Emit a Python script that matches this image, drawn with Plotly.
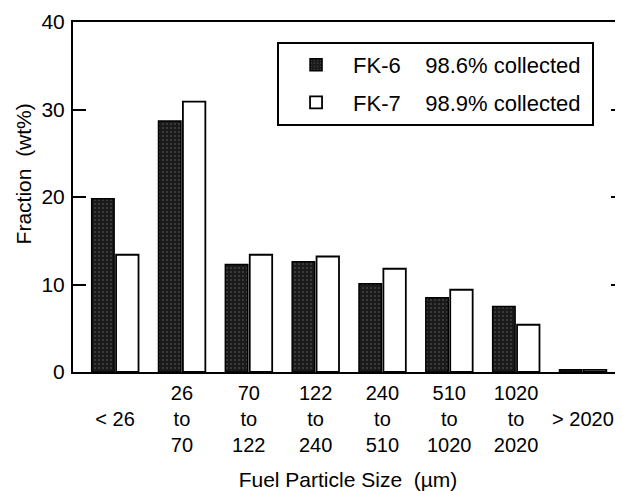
import plotly.graph_objects as go

categories = ["< 26", "26 to 70", "70 to 122", "122 to 240", "240 to 510",
              "510 to 1020", "1020 to 2020", "> 2020"]
tick_labels = ["&nbsp;<br>&lt; 26<br>&nbsp;", "26<br>to<br>70", "70<br>to<br>122",
               "122<br>to<br>240", "240<br>to<br>510", "510<br>to<br>1020",
               "1020<br>to<br>2020", "&nbsp;<br>&gt; 2020<br>&nbsp;"]
fk6 = [19.8, 28.7, 12.3, 12.6, 10.1, 8.5, 7.5, 0.25]
fk7 = [13.4, 30.9, 13.4, 13.2, 11.8, 9.4, 5.4, 0.25]
names = ["FK-6&nbsp;&nbsp;&nbsp;&nbsp;98.6% collected&nbsp;", "FK-7&nbsp;&nbsp;&nbsp;&nbsp;98.9% collected&nbsp;"]
y_ticks = [0, 10, 20, 30, 40]

FONT = "Liberation Sans, Arial, sans-serif"

fig = go.Figure()
fig.add_trace(go.Bar(
    x=categories, y=fk6, name=names[0], legendgroup="a",
    marker=dict(color="#1a1a1a", line=dict(color="black", width=1.5),
                pattern=dict(shape=".", fgcolor="#b0b0b0", size=4, solidity=0.12)),
))
fig.add_trace(go.Bar(
    x=categories, y=fk7, name=names[1], legendgroup="b",
    marker=dict(color="white", line=dict(color="black", width=1.8)),
))
# invisible trace for right-side ticks
fig.add_trace(go.Scatter(x=[categories[0]], y=[0], yaxis="y2", mode="markers",
                         marker=dict(opacity=0), showlegend=False, hoverinfo="skip"))

fig.update_layout(
    width=615, height=483,
    margin=dict(l=65, r=0, t=14, b=119, autoexpand=False),
    paper_bgcolor="white", plot_bgcolor="white",
    font=dict(family=FONT, size=20, color="black"),
    barmode="group", bargap=0.27, bargroupgap=0.08,
    showlegend=True,
    legend=dict(x=0.371, y=0.943, xanchor="left", yanchor="top",
                bordercolor="black", borderwidth=2, bgcolor="white",
                font=dict(size=22, family=FONT), traceorder="grouped",
                tracegroupgap=6, itemwidth=64),
    xaxis=dict(
        type="category", range=[-0.63, 7.6],
        tickmode="array", tickvals=categories, ticktext=tick_labels,
        showline=True, linecolor="black", linewidth=2, mirror=True,
        ticks="", showgrid=False, zeroline=False, ticklabelstandoff=2,
        tickfont=dict(size=20),
        title=dict(text="Fuel Particle Size&nbsp;&nbsp;(µm)", standoff=20,
                   font=dict(size=21)),
        automargin=False,
    ),
    yaxis=dict(
        range=[0, 40], tickvals=y_ticks,
        showline=True, linecolor="black", linewidth=2,
        ticks="inside", ticklen=13, tickwidth=2, tickcolor="black",
        showgrid=False, zeroline=False, tickfont=dict(size=21),
        ticklabelstandoff=2,
        automargin=False,
    ),
    yaxis2=dict(
        range=[0, 40], tickvals=y_ticks, overlaying="y", side="right",
        ticks="inside", ticklen=12, tickwidth=2, tickcolor="black",
        showticklabels=False, showline=False, showgrid=False, zeroline=False,
    ),
    annotations=[dict(
        text="Fraction&nbsp;&nbsp;(wt%)", textangle=-90,
        xref="paper", yref="paper", x=-0.09, y=0.566,
        xanchor="center", yanchor="middle", showarrow=False,
        font=dict(size=21, family=FONT),
    )],
)

fig.write_html("out.html")
